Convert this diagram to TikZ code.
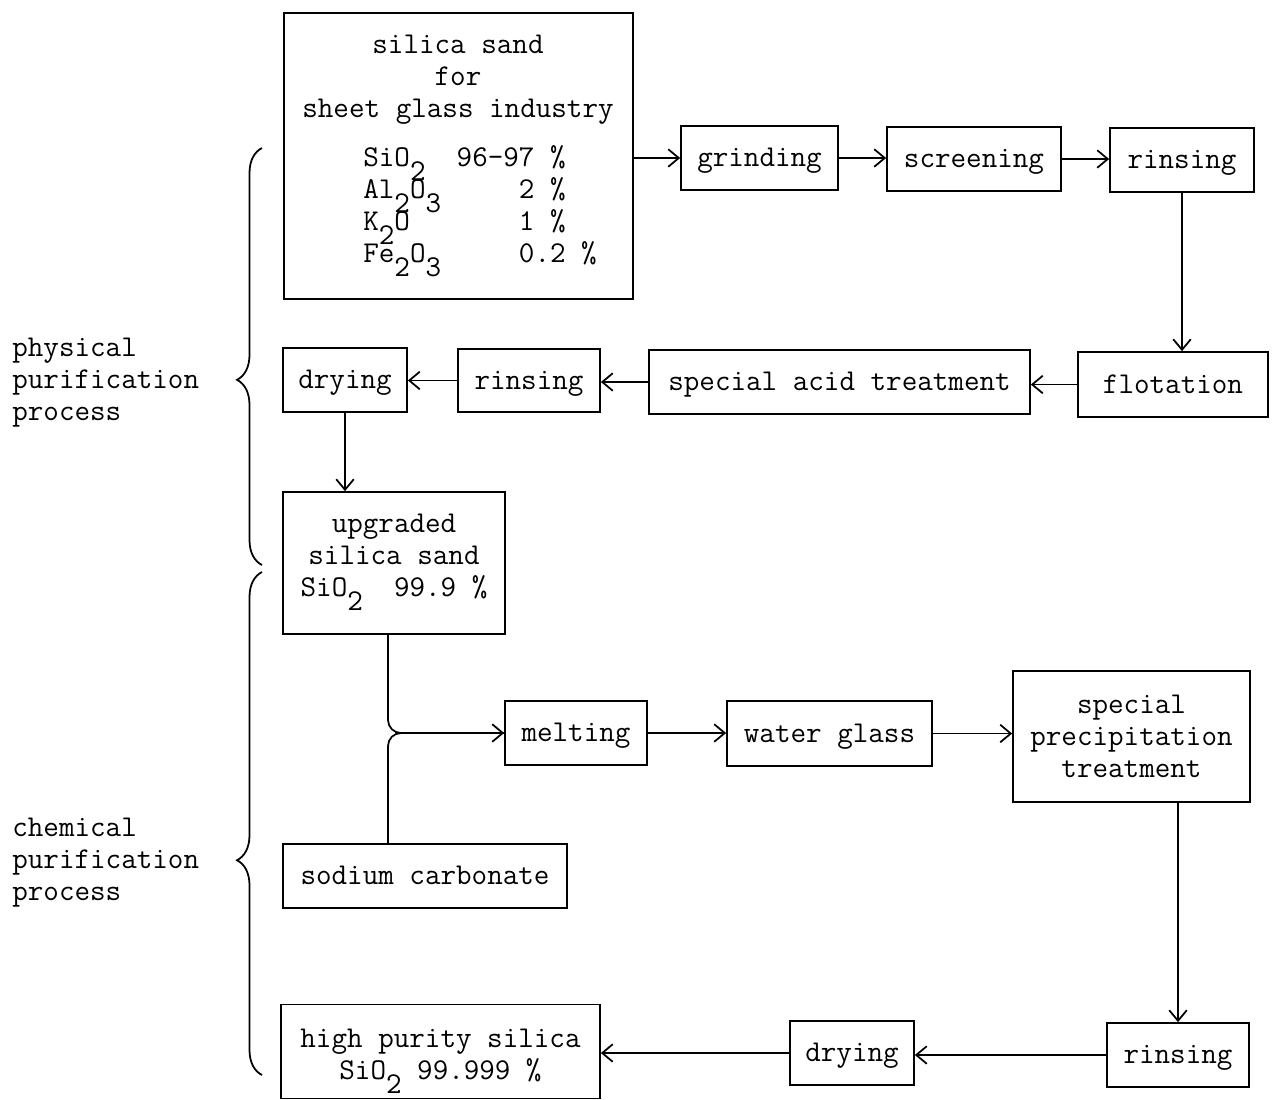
\documentclass[tikz,border=0pt]{standalone}
\usetikzlibrary{arrows.meta,decorations.pathreplacing}

\tikzset{
  every node/.style={font=\fontsize{17.2}{18.2}\selectfont\ttfamily},
  box/.style={draw, line width=1pt, minimum height=1.28cm, align=center, inner sep=0pt},
  oneline/.style={box, text height=12.4pt, text depth=2.5pt},
  txt/.style={inner sep=0pt},
  link/.style={line width=1pt},
  flow/.style={link, -{Straight Barb[length=6pt,width=10pt,line width=1pt]}},
  curly/.style={line width=1pt, decorate, decoration={brace, amplitude=0.5cm}},
}
\newcommand{\lowd}[1]{\smash{\raisebox{-8pt}{#1}}}

\begin{document}
\begin{tikzpicture}[x=0.02cm, y=-0.02cm]
  \useasboundingbox (0,0) rectangle (1274,1099);

  % physical part
  \node[box, minimum width=6.98cm, minimum height=5.72cm] (sand) at (458.5,156) {};
  \node[txt, align=center] (sandname) at (458,80) {silica sand\\for\\sheet glass industry};
  \node[txt, align=left, anchor=west] (sandcomp) at (363,205)
    {SiO\lowd{2}~~96-97~\%\\Al\lowd{2}O\lowd{3}~~~~~2~\%\\K\lowd{2}O~~~~~~~1~\%\\Fe\lowd{2}O\lowd{3}~~~~~0.2~\%};
  \node[oneline, minimum width=3.14cm] (grind) at (759.5,158) {grinding};
  \node[oneline, minimum width=3.48cm] (screen) at (974,159) {screening};
  \node[oneline, minimum width=2.88cm] (rinsA) at (1182,160) {rinsing};
  \node[oneline, minimum width=3.8cm, minimum height=1.3cm] (flot) at (1173,384.5) {flotation};
  \node[oneline, minimum width=7.62cm] (acid) at (839.5,382) {special acid treatment};
  \node[oneline, minimum width=2.84cm, minimum height=1.26cm] (rinsB) at (529,380.5) {rinsing};
  \node[oneline, minimum width=2.48cm] (dryA) at (345,380) {drying};
  \node[box, minimum width=4.44cm, minimum height=2.84cm] (upg) at (394,563)
    {upgraded\\silica sand\\SiO\lowd{2}~~99.9~\%\rule[-9pt]{0pt}{0pt}};

  % chemical part
  \node[oneline, minimum width=2.84cm] (melt) at (576,733) {melting};
  \node[oneline, minimum width=4.1cm, minimum height=1.3cm] (water) at (829.5,733.5) {water glass};
  \node[box, minimum width=4.74cm, minimum height=2.62cm] (precip) at (1131.5,736.5)
    {special\\precipitation\\treatment};
  \node[oneline, minimum width=5.68cm] (soda) at (425,876) {sodium carbonate};
  \node[oneline, minimum width=2.84cm] (rinsC) at (1178,1055) {rinsing};
  \node[oneline, minimum width=2.48cm] (dryB) at (852,1053) {drying};
  \node[box, minimum width=6.38cm, minimum height=1.88cm] (pure) at (440.5,1051.5)
    {\rule{0pt}{15pt}high purity silica\\SiO\lowd{2} 99.999 \%};
  \coordinate (join) at (388,733);

  % process labels
  \node[txt, align=left, anchor=west] (physlab) at (12,383) {physical\\purification\\process};
  \node[txt, align=left, anchor=west] (chemlab) at (12,863) {chemical\\purification\\process};
  \draw[curly, decoration={aspect=0.444}] (262,565) -- (262,148);
  \draw[curly, decoration={aspect=0.427}] (262,1075) -- (262,572);

  % connectors
  \draw[flow] (grind.west -| sand.east) -- (grind.west);
  \draw[flow] (grind.east) -- (grind.east -| screen.west);
  \draw[flow] (screen.east) -- (screen.east -| rinsA.west);
  \draw[flow] (rinsA.south) -- (rinsA.south |- flot.north);
  \draw[flow] (flot.west) -- (flot.west -| acid.east);
  \draw[flow] (acid.west) -- (acid.west -| rinsB.east);
  \draw[flow] (rinsB.west) -- (rinsB.west -| dryA.east);
  \draw[flow] (dryA.south) -- (dryA.south |- upg.north);
  \draw[flow, rounded corners=0.26cm] (upg.south -| join) |- (melt.west);
  \draw[link, rounded corners=0.26cm] (soda.north -| join) |- (melt.west);
  \draw[flow] (melt.east) -- (melt.east -| water.west);
  \draw[flow] (water.east) -- (water.east -| precip.west);
  \draw[flow] (rinsC.north |- precip.south) -- (rinsC.north);
  \draw[flow] (rinsC.west) -- (rinsC.west -| dryB.east);
  \draw[flow] (dryB.west) -- (dryB.west -| pure.east);
\end{tikzpicture}
\end{document}
